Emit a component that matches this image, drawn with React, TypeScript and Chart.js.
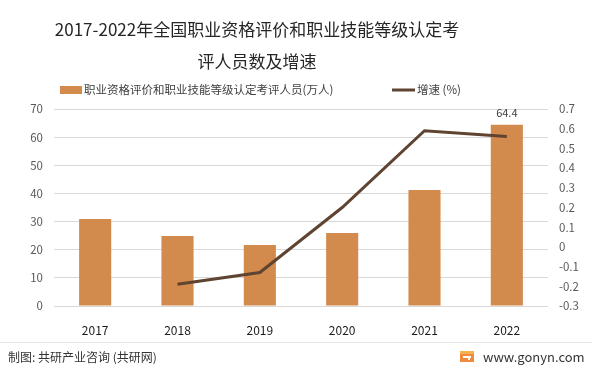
import React, { useEffect, useRef } from "react";
import { Chart, registerables } from "chart.js";

Chart.register(...registerables);

const categories = ["2017", "2018", "2019", "2020", "2021", "2022"];
const examinees = [30.9, 24.9, 21.7, 25.9, 41.2, 64.4];
const growth = [null, -0.19, -0.13, 0.2, 0.59, 0.56];
const leftTicks = [0, 10, 20, 30, 40, 50, 60, 70];
const rightTicks = [-0.3, -0.2, -0.1, 0, 0.1, 0.2, 0.3, 0.4, 0.5, 0.6, 0.7];
const labeledBars = [5];

const titleLines = ["2017-2022年全国职业资格评价和职业技能等级认定考", "评人员数及增速"];
const barLabel = "职业资格评价和职业技能等级认定考评人员(万人)";
const lineLabel = "增速 (%)";
const sourceText = "制图: 共研产业咨询 (共研网)";
const siteText = "www.gonyn.com";

const BAR_COLOR = "#d38b4d";
const LINE_COLOR = "#5e4431";
const FONT = "'Noto Sans CJK SC', 'Noto Sans', sans-serif";

const decorPlugin = {
  id: "decor",
  afterDraw(chart: any) {
    const ctx = chart.ctx as CanvasRenderingContext2D;
    ctx.save();
    // Title
    ctx.fillStyle = "#262626";
    ctx.font = `17px ${FONT}`;
    ctx.textAlign = "center";
    ctx.textBaseline = "middle";
    ctx.fillText(titleLines[0], 257, 30);
    ctx.fillText(titleLines[1], 257, 62);

    // Legend
    ctx.font = `11.5px ${FONT}`;
    ctx.textAlign = "left";
    ctx.fillStyle = BAR_COLOR;
    ctx.fillRect(60, 86, 22, 8);
    ctx.fillStyle = "#404040";
    ctx.fillText(chart.data.datasets[0].label, 84, 90);
    ctx.strokeStyle = LINE_COLOR;
    ctx.lineWidth = 3;
    ctx.beginPath();
    ctx.moveTo(392, 90);
    ctx.lineTo(415, 90);
    ctx.stroke();
    ctx.fillStyle = "#404040";
    ctx.fillText(chart.data.datasets[1].label, 417, 90);

    // Data labels
    const meta = chart.getDatasetMeta(0);
    ctx.font = `11px ${FONT}`;
    ctx.textAlign = "center";
    ctx.fillStyle = "#404040";
    labeledBars.forEach((i) => {
      const el = meta.data[i];
      if (el) ctx.fillText(String(examinees[i]), el.x, el.y - 12);
    });

    // Footer
    ctx.strokeStyle = "#e6e6e6";
    ctx.lineWidth = 1;
    ctx.beginPath();
    ctx.moveTo(0, 342.5);
    ctx.lineTo(592, 342.5);
    ctx.stroke();
    ctx.font = `12px ${FONT}`;
    ctx.textAlign = "left";
    ctx.fillStyle = "#333333";
    ctx.fillText(sourceText, 8, 357);
    // logo
    ctx.fillStyle = "#f08a3c";
    ctx.fillRect(460, 351, 14, 11);
    ctx.fillStyle = "#f7b24d";
    ctx.fillRect(460, 351, 14, 3);
    ctx.fillStyle = "#ffffff";
    ctx.fillRect(463, 356, 8, 2);
    ctx.fillRect(468, 356, 2, 4);
    ctx.font = `13px ${FONT}`;
    ctx.fillStyle = "#333333";
    ctx.fillText(siteText, 483, 357);
    ctx.restore();
  },
};

export default function App() {
  const ref = useRef<HTMLCanvasElement | null>(null);
  useEffect(() => {
    document.body.style.margin = "0";
    const canvas = ref.current!;
    const chart = new Chart(canvas, {
      type: "bar",
      data: {
        labels: categories,
        datasets: [
          {
            type: "bar",
            label: barLabel,
            data: examinees,
            backgroundColor: BAR_COLOR,
            yAxisID: "y",
            barPercentage: 0.39,
            categoryPercentage: 1,
            order: 2,
          },
          {
            type: "line",
            label: lineLabel,
            data: growth as any,
            borderColor: LINE_COLOR,
            borderWidth: 3,
            pointRadius: 0,
            yAxisID: "y1",
            tension: 0,
            order: 1,
            spanGaps: false,
          },
        ],
      },
      options: {
        responsive: false,
        animation: false,
        layout: { padding: { top: 109, left: 0, right: 0, bottom: 0 } },
        plugins: {
          legend: { display: false },
          title: { display: false },
          tooltip: { enabled: false },
        },
        scales: {
          x: {
            grid: { display: false },
            border: { display: false },
            ticks: {
              color: "#1a1a1a",
              font: { size: 12, family: FONT },
              padding: 9,
            },
            afterFit: (s: any) => {
              s.height = 67;
            },
          },
          y: {
            position: "left",
            min: 0,
            max: 70,
            afterBuildTicks: (s: any) => {
              s.ticks = leftTicks.map((v) => ({ value: v }));
            },
            grid: { color: "#d9d9d9", drawTicks: false, lineWidth: 1 },
            border: { display: false },
            ticks: {
              color: "#595959",
              font: { size: 11.5, family: FONT },
              padding: 11,
            },
            afterFit: (s: any) => {
              s.width = 54;
            },
          },
          y1: {
            position: "right",
            min: -0.3,
            max: 0.7,
            afterBuildTicks: (s: any) => {
              s.ticks = rightTicks.map((v) => ({ value: v }));
            },
            grid: { display: false, drawTicks: false },
            border: { display: false },
            ticks: {
              color: "#595959",
              font: { size: 11.5, family: FONT },
              padding: 11,
              callback: (v: any) => String(Math.round(Number(v) * 10) / 10),
            },
            afterFit: (s: any) => {
              s.width = 53;
            },
          },
        },
      },
      plugins: [decorPlugin],
    });
    return () => chart.destroy();
  }, []);
  return <canvas ref={ref} width={601} height={373} style={{ display: "block" }} />;
}
